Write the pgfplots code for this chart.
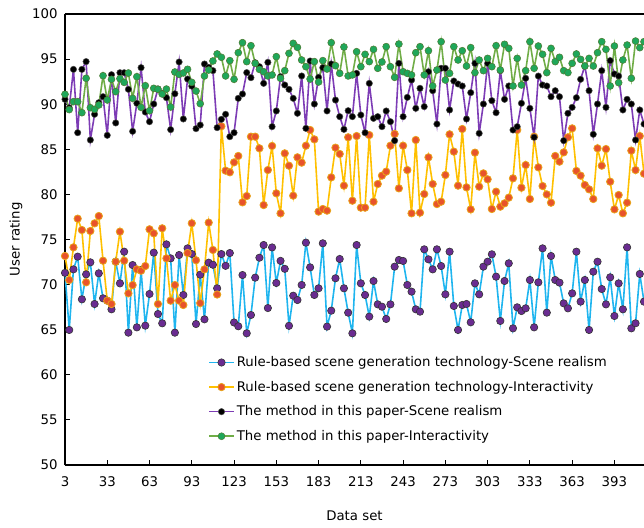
\documentclass[border=0pt]{standalone}
\usepackage{fontspec}
\setmainfont{DejaVu Sans}
\usepackage{pgfplots}
\usepackage{pgfplotstable}
\pgfplotsset{compat=1.18}
\definecolor{RuleLine}{HTML}{1FB5EF}
\definecolor{RuleMark}{HTML}{6A2C91}
\definecolor{IntLine}{HTML}{FFC000}
\definecolor{IntMark}{HTML}{E8532B}
\definecolor{IntEdge}{HTML}{E9A21A}
\definecolor{OurLine}{HTML}{7D3CB5}
\definecolor{OurInt}{HTML}{70AD47}
\definecolor{OurIntMark}{HTML}{1FA75A}

% x: data set, a: rule realism, b: rule interactivity, c: ours realism, d: ours interactivity
\pgfplotstableread{
x a b c d
3 71.30 73.17 90.54 91.10
6 64.97 70.51 89.60 89.40
9 71.69 74.13 93.86 90.28
12 73.10 77.31 86.84 90.28
15 68.37 76.05 93.86 89.06
18 71.14 70.25 94.72 92.87
21 72.47 75.94 86.03 89.61
24 67.85 76.79 88.88 89.43
27 71.25 77.60 90.17 89.91
30 68.48 72.65 90.83 93.16
33 68.22 68.22 86.55 90.47
36 67.26 67.85 93.27 92.76
39 72.54 72.54 87.92 91.39
42 70.14 75.87 93.49 92.83
45 73.65 72.65 93.49 92.42
48 64.67 69.03 91.65 93.46
51 72.17 69.95 86.99 90.65
54 65.26 71.69 90.10 93.05
57 71.62 71.54 94.05 89.65
60 65.45 72.06 89.13 92.05
63 68.96 76.13 88.06 89.28
66 73.54 75.68 90.02 91.76
69 66.74 67.85 91.69 91.65
72 65.71 76.24 91.20 91.13
75 74.46 72.91 90.72 91.68
78 72.91 68.22 87.18 89.69
81 64.67 69.95 91.16 93.57
84 73.28 68.22 94.68 93.31
87 68.85 67.74 88.36 93.46
90 74.02 73.50 92.79 93.87
93 73.39 76.80 92.00 92.42
96 65.63 72.70 87.29 91.46
99 71.10 67.95 87.69 90.06
102 66.15 71.69 94.46 93.13
105 72.43 76.87 94.09 93.79
108 72.20 73.84 93.72 94.79
111 69.59 68.90 87.40 95.57
114 73.39 87.55 88.32 95.20
117 72.08 82.63 88.88 93.13
120 73.50 82.45 86.40 94.83
123 65.80 83.55 86.84 92.76
126 65.38 84.26 90.65 95.71
129 71.06 79.12 91.13 96.82
132 64.60 79.82 93.50 94.72
135 66.63 86.40 92.94 96.49
138 70.77 86.40 94.60 94.53
141 72.98 85.11 94.16 93.86
144 74.39 78.82 92.31 93.60
147 67.40 82.70 94.64 93.13
150 74.12 85.37 87.51 93.24
153 70.18 80.12 89.25 95.27
156 72.63 77.90 93.05 92.87
159 71.75 84.55 92.13 93.72
162 65.43 83.18 91.65 95.64
165 68.77 79.86 90.65 96.75
168 68.29 84.11 88.99 96.30
171 69.96 83.52 93.13 94.90
174 74.65 85.40 87.32 94.16
177 71.91 87.14 94.79 92.79
180 68.85 86.10 90.02 94.72
183 69.59 78.09 92.98 92.46
186 74.58 78.38 94.05 94.83
189 65.34 78.20 89.25 93.90
192 67.11 81.89 94.46 96.82
195 70.70 85.18 90.46 94.27
198 72.84 84.48 88.62 93.42
201 69.59 80.97 87.21 96.34
204 66.89 86.33 89.28 93.13
207 64.60 79.30 88.62 93.24
210 74.39 86.47 93.42 95.82
213 70.14 78.53 88.80 94.16
216 68.85 78.53 86.84 95.53
219 66.45 86.58 92.31 94.72
222 70.40 79.19 88.43 96.08
225 67.81 81.15 88.62 93.98
228 67.55 82.08 87.51 94.68
231 66.19 82.52 89.25 96.38
234 67.81 85.40 88.06 94.16
237 71.99 86.70 85.96 92.98
240 72.73 80.67 94.53 96.67
243 72.62 85.40 88.62 93.60
246 69.96 82.70 90.76 93.42
249 69.22 77.90 92.68 93.24
252 67.26 86.03 89.54 95.71
255 67.00 77.97 91.76 96.38
258 73.91 80.04 89.73 93.24
261 72.80 84.11 93.60 95.93
264 71.69 81.15 91.50 92.02
267 73.91 78.93 87.80 93.79
270 72.06 79.19 93.98 96.93
273 68.92 82.15 93.98 92.68
276 73.65 86.66 89.36 93.42
279 67.63 84.74 92.57 96.38
282 64.97 80.97 92.24 94.90
285 67.74 87.25 92.02 95.93
288 67.85 80.78 88.36 94.23
291 65.82 78.34 91.28 96.27
294 70.14 84.63 94.53 93.50
297 68.92 80.86 86.77 94.90
300 71.99 82.33 90.02 93.72
303 72.54 81.67 94.53 95.08
306 73.36 78.38 90.39 94.16
309 70.88 80.30 89.06 96.49
312 65.97 78.64 93.72 93.79
315 70.40 79.01 90.54 96.64
318 72.36 79.64 92.02 96.19
321 65.15 81.78 87.14 92.02
324 67.48 87.14 87.51 95.08
327 67.07 80.74 90.10 92.13
330 67.37 83.26 92.87 93.72
333 70.51 79.49 89.54 96.93
336 65.26 86.40 86.33 93.98
339 70.25 83.00 93.12 96.45
342 74.02 80.93 92.13 95.53
345 66.89 80.00 92.02 93.50
348 73.17 79.08 90.83 96.19
351 70.51 84.26 91.50 94.72
354 70.22 83.63 90.83 95.20
357 67.92 84.66 85.96 93.72
360 67.37 86.33 88.99 93.50
363 69.03 87.32 89.65 94.53
366 73.65 82.60 90.72 95.57
369 68.11 82.08 92.76 94.97
372 70.51 81.04 94.24 94.23
375 64.97 80.56 91.50 95.08
378 71.43 79.49 86.66 94.23
381 72.54 85.11 90.02 95.71
384 69.51 83.18 93.72 96.93
387 67.81 85.03 89.65 96.08
390 70.81 81.41 94.83 92.02
393 66.52 78.34 93.35 96.45
396 70.14 79.93 93.12 92.39
399 67.26 77.90 89.36 94.90
402 74.13 79.08 90.54 96.56
405 65.15 84.85 90.02 92.87
408 65.71 82.70 86.03 97.00
411 71.18 86.47 89.36 96.27
414 68.11 82.30 87.80 96.93
}\ratings

\begin{document}
\begin{tikzpicture}
\begin{axis}[
  scale only axis,
  width=579bp, height=451bp,
  xmin=3, xmax=414, ymin=50, ymax=100,
  axis x line=box, axis y line=left,
  y axis line style={-},
  axis line style={black, line width=1.2bp},
  tick align=inside,
  xtick pos=left, ytick pos=left,
  major tick length=5bp,
  tick style={black, line width=1bp},
  xtick={3,33,...,393},
  ytick={50,55,...,100},
  /pgf/number format/assume math mode=true,
  tick label style={font=\fontsize{13.3bp}{15bp}\selectfont},
  xticklabel style={yshift=-8bp},
  yticklabel style={xshift=-4bp},
  xlabel={Data set},
  ylabel={User rating},
  every axis x label/.style={at={(axis description cs:0.5,0)}, yshift=-51bp, anchor=center,
    font=\fontsize{13.3bp}{15bp}\selectfont},
  every axis y label/.style={at={(axis description cs:0,0.5)}, xshift=-49bp, rotate=90, anchor=center,
    font=\fontsize{13.3bp}{15bp}\selectfont},
  clip=false,
  legend cell align=left,
  legend image code/.code={\draw[mark repeat=2,mark phase=2] plot coordinates {(0bp,0bp) (12.5bp,0bp) (25bp,0bp)};},
  legend style={draw=none, fill=none, inner sep=0pt, row sep=9bp,
    at={(axis description cs:0.247,0.245)}, anchor=north west,
    font=\fontsize{13.3bp}{15bp}\selectfont},
]
\addplot[RuleLine, line width=1.6bp, mark=*, mark size=3.7bp,
  mark options={fill=RuleMark, draw=black!80, line width=0.6bp}]
  table[x=x, y=a]{\ratings};
\addlegendentry{Rule-based scene generation technology-Scene realism}
\addplot[IntLine, line width=1.6bp, mark=*, mark size=3.7bp,
  mark options={fill=IntMark, draw=IntEdge, line width=0.8bp}]
  table[x=x, y=b]{\ratings};
\addlegendentry{Rule-based scene generation technology-Interactivity}
\addplot[OurLine, line width=1.6bp, mark=*, mark size=3.2bp,
  mark options={fill=black, draw=black!70, line width=0.5bp}]
  table[x=x, y=c]{\ratings};
\addlegendentry{The method in this paper-Scene realism}
\addplot[OurInt, line width=1.6bp, mark=*, mark size=3.5bp,
  mark options={fill=OurIntMark, draw=OurInt!70!black, line width=0.5bp}]
  table[x=x, y=d]{\ratings};
\addlegendentry{The method in this paper-Interactivity}
\end{axis}
\pgfresetboundingbox
\path ([shift={(-65bp,-63bp)}]current axis.south west) rectangle ([shift={(0bp,14bp)}]current axis.north east);
\end{tikzpicture}
\end{document}
